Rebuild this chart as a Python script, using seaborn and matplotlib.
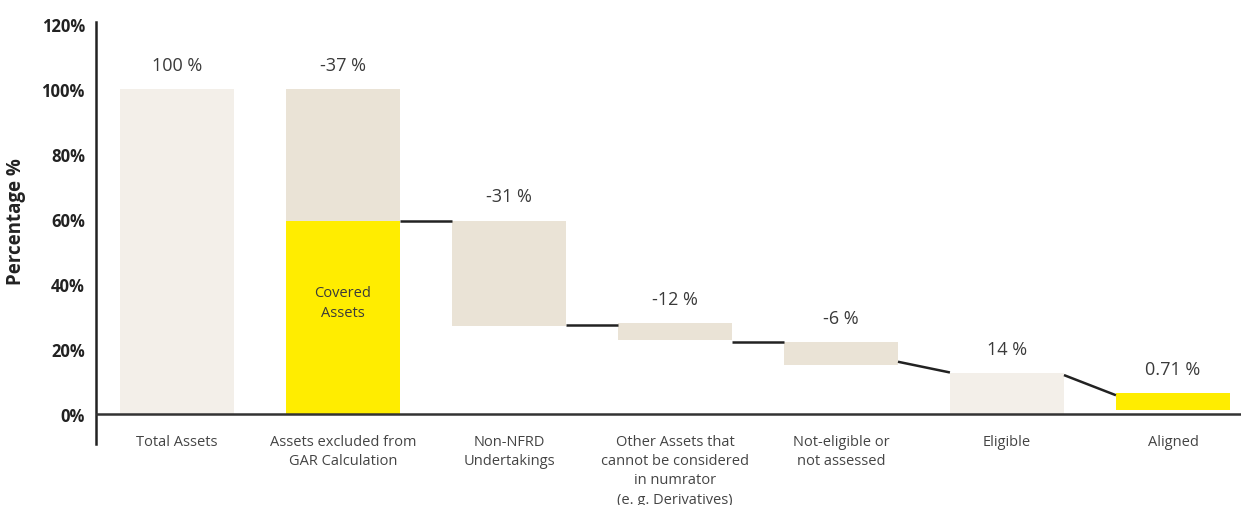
import numpy as np
import pandas as pd
import seaborn as sns
import matplotlib
matplotlib.use("Agg")
import matplotlib.pyplot as plt

# ---------------- data ----------------
categories = [
    "Total Assets",
    "Assets excluded from\nGAR Calculation",
    "Non-NFRD\nUndertakings",
    "Other Assets that\ncannot be considered\nin numrator\n(e. g. Derivatives)",
    "Not-eligible or\nnot assessed",
    "Eligible",
    "Aligned",
]
bar_bottoms = [0, 59.3, 27.2, 22.9, 15.2, 0, 1.3]
bar_tops = [100, 100, 59.5, 28.0, 22.2, 12.6, 6.5]
value_labels = ["100 %", "-37 %", "-31 %", "-12 %", "-6 %", "14 %", "0.71 %"]
bar_kinds = ["total", "step", "step", "step", "step", "total", "aligned"]
covered_assets = [0, 59.3, 0, 0, 0, 0, 0]
covered_label = "Covered\nAssets"
# connectors between bar i and bar i+1 (start level, end level)
conn_from = [1, 2, 3, 4, 5]
conn_start = [59.4, 27.5, 22.2, 16.1, 12.0]
conn_end = [59.4, 27.5, 22.2, 12.8, 5.8]
yticks = [0, 20, 40, 60, 80, 100, 120]
ytick_labels = ["0%", "20%", "40%", "60%", "80%", "100%", "120%"]

kind_colors = {"total": "#F3EFE9", "step": "#EAE3D6", "aligned": "#FFED00"}
yellow = "#FFED00"

sns.set_theme(style="white")
plt.rcParams["font.family"] = ["Open Sans", "DejaVu Sans"]

fig = plt.figure(figsize=(12.41, 5.06), dpi=100)
ax = fig.add_axes([96 / 1241, 1 - 445 / 506, (1241 - 96) / 1241, (445 - 22.7) / 506])

heights = [t - b for t, b in zip(bar_tops, bar_bottoms)]
df = pd.DataFrame({"cat": categories, "height": heights})
width = 0.687

sns.barplot(data=df, x="cat", y="height", bottom=bar_bottoms, color="#EAE3D6",
            errorbar=None, width=width, saturation=1, ax=ax, linewidth=0)
for p, k in zip(ax.patches, bar_kinds):
    p.set_facecolor(kind_colors[k])
    p.set_edgecolor("none")

df2 = pd.DataFrame({"cat": categories, "height": covered_assets})
sns.barplot(data=df2, x="cat", y="height", color=yellow, errorbar=None,
            width=width, saturation=1, ax=ax, linewidth=0)

# covered assets text
ci = int(np.argmax(covered_assets))
ax.text(ci, covered_assets[ci] * 0.58, covered_label, ha="center", va="center",
        fontsize=10.5, color="#3a3a3a", linespacing=1.5)

# value labels
for i, (t, lab) in enumerate(zip(bar_tops, value_labels)):
    ax.annotate(lab, (i, t), xytext=(0, 17.5), textcoords="offset points",
                ha="center", va="center", fontsize=13, color="#3a3a3a")

# connectors
for i, s, e in zip(conn_from, conn_start, conn_end):
    ax.plot([i + width / 2, i + 1 - width / 2], [s, e], color="#222222",
            lw=1.8, solid_capstyle="butt", zorder=3)

ax.axhline(0, color="#333333", lw=1.8, zorder=4)

ax.set_xlim(-0.488, 6.41)
ax.set_ylim(-9.2, 120.7)
ax.set_yticks(yticks)
ax.set_yticklabels(ytick_labels, fontweight="bold", fontsize=12, color="#222222")
ax.tick_params(axis="y", length=0, pad=8)
ax.tick_params(axis="x", length=0, pad=-7.5, labelsize=10.5, labelcolor="#444444")
for lbl in ax.get_xticklabels():
    lbl.set_linespacing(1.4)

ax.set_xlabel("")
ax.set_ylabel("Percentage %", fontweight="bold", fontsize=13.5, color="#222222")
ax.yaxis.set_label_coords(-0.061, 0.53)

for s in ["top", "right", "bottom"]:
    ax.spines[s].set_visible(False)
ax.spines["left"].set_color("#222222")
ax.spines["left"].set_linewidth(1.8)
ax.grid(False)

fig.savefig("out.png", dpi=100)
